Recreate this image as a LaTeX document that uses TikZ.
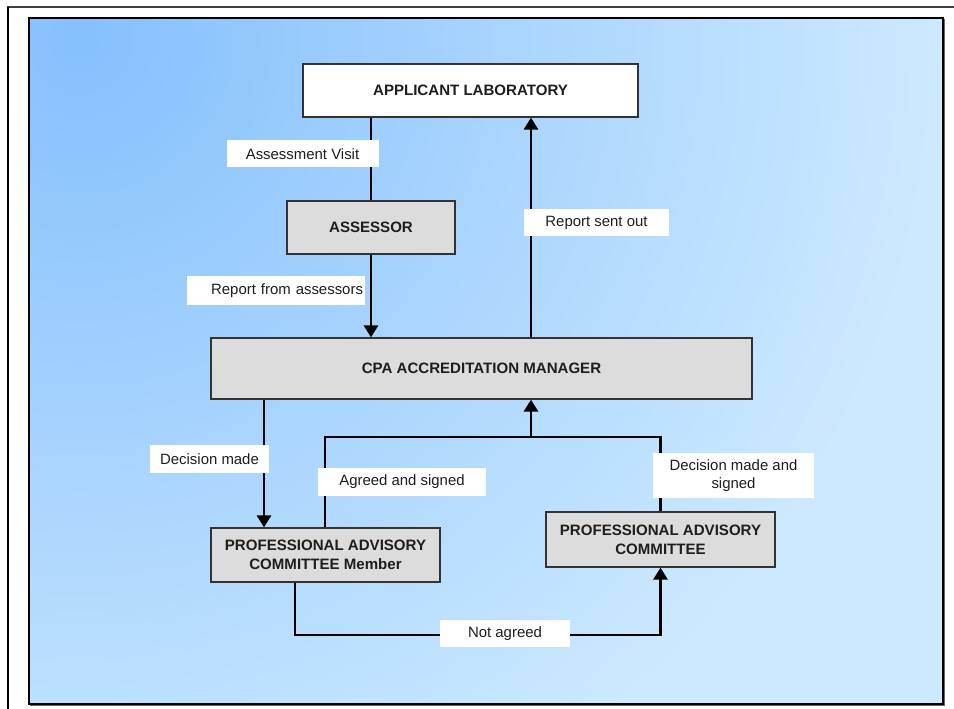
\documentclass[tikz,border=0pt]{standalone}
\usepackage{fontspec}
\setmainfont{Liberation Sans}
\usetikzlibrary{arrows.meta}

\definecolor{boxgray}{HTML}{DCDCDC}
\definecolor{bgdeep}{HTML}{86C0FD}
\definecolor{bglight}{HTML}{CCE9FF}
\definecolor{inktext}{HTML}{1E1E1E}
% the path fills the central 50bp square, so 25bp is the circle's rim
\pgfdeclareradialshading{backglow}{\pgfpoint{0bp}{0bp}}{color(0bp)=(bgdeep); color(25bp)=(bglight); color(50bp)=(bglight)}

\tikzset{
  sz/.style 2 args={minimum width=#1*0.75pt, minimum height=#2*0.75pt},
  box/.style={draw=black!80, line width=0.9pt, fill=boxgray, inner sep=0pt,
    align=center, text=inktext, font=\bfseries\fontsize{11.3}{14.5}\selectfont},
  tag/.style={fill=white, inner sep=0pt, align=center, text=inktext,
    font=\fontsize{11.2}{14}\selectfont},
  conn/.style={line width=2.2pt, black},
  tip/.style={-{Triangle[width=10.5pt,length=9pt]}},
}

\begin{document}
\begin{tikzpicture}[x=0.75pt,y=-0.75pt]
\useasboundingbox (0,0) rectangle (954,709);
\fill[white] (0,0) rectangle (954,709);

% outer frame (top and left edges)
\draw[line width=1.5pt, black!75] (7,7) -- (954,7);
\draw[line width=1.5pt, black] (8,7) -- (8,709);

% blue panel with a soft glow from the upper left
\fill[bglight] (29,18) rectangle (943,704);
\begin{scope}
  \clip (29,18) rectangle (943,704);
  \shade[shading=backglow] (80,40) circle (860);
\end{scope}
\draw[line width=1.5pt, black!60] (30,704.5) -- (943.5,704.5) -- (943.5,19);
\draw[line width=0.8pt, black] (29,18) rectangle (943,704);

% boxes
\node[box, fill=white, sz={335}{53}] (lab) at (470.5,90.5) {APPLICANT LABORATORY};
\node[box, sz={168}{53}] (ass) at (371,227.5) {ASSESSOR};
\node[box, sz={541}{61}] (cpa) at (481.5,368.5) {CPA ACCREDITATION MANAGER};
\node[box, sz={229}{54}] (pacm) at (325.5,555) {PROFESSIONAL ADVISORY\\COMMITTEE Member};
\node[box, sz={229}{55}] (pac) at (660.5,539.5) {PROFESSIONAL ADVISORY\\COMMITTEE};

% connectors
\coordinate (rx) at (531,0);
\coordinate (dx) at (264,0);
\coordinate (jl) at (325,437);
\coordinate (jm) at (531,437);
\coordinate (bl) at (295,635);

\draw[conn] (ass.north) -- (ass.north |- lab.south);
\draw[conn,tip] (ass.south) -- (ass.south |- cpa.north);
\draw[conn,tip] (cpa.north -| rx) -- (lab.south -| rx);
\draw[conn,tip] (cpa.south -| dx) -- (pacm.north -| dx);
\draw[conn] (pacm.north -| jl) -- (jl) -| (pac.north);
\draw[conn,tip] (jm) -- (cpa.south -| jm);
\draw[conn,tip] (pacm.south -| bl) -- (bl) -| (pac.south);

% connector labels
\node[tag, sz={152}{27}] (t1) at (302.5,154) {Assessment Visit};
\node[tag, sz={178}{29}, text width=174*0.75pt, align=right] (t2) at (276,290.5) {Report from assessors};
\node[tag, sz={145}{27}] (t3) at (596.5,222.5) {Report sent out};
\node[tag, sz={119}{28}] (t4) at (209.5,459) {Decision made};
\node[tag, sz={168}{28}] (t5) at (402,482) {Agreed and signed};
\node[tag, sz={161}{45}] (t6) at (733.5,475.5) {Decision made and\\signed};
\node[tag, sz={130}{27}] (t7) at (505,633.5) {Not agreed};
\end{tikzpicture}
\end{document}
